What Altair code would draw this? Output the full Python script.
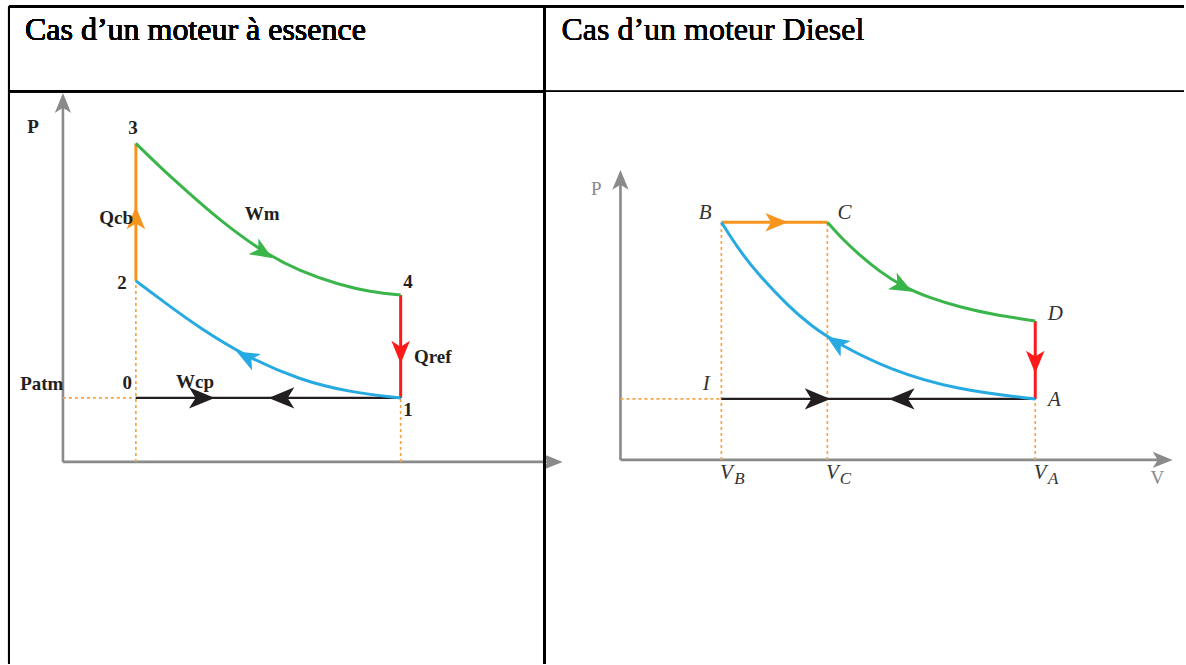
import altair as alt
import pandas as pd

# ---------------- Cycle à essence (Beau de Rochas), unités schématiques ----------------
ess_green_v = [1.00, 1.33, 1.74, 2.15, 2.74, 3.25, 3.79, 4.21, 4.63]
ess_green_p = [4.98, 4.61, 4.19, 3.78, 3.28, 2.98, 2.77, 2.66, 2.61]
ess_blue_v = [1.00, 1.42, 1.88, 2.52, 3.25, 3.93, 4.63]
ess_blue_p = [2.83, 2.47, 2.09, 1.64, 1.28, 1.09, 1.00]
ess_v_min, ess_v_max = 1.00, 4.63
ess_p_atm, ess_p2, ess_p3, ess_p4 = 1.00, 2.83, 4.98, 2.61
ess_axis_v_end, ess_axis_p_end = 6.71, 5.61

ess_label_text = ["P", "3", "Qcb", "Wm", "2", "4", "Qref", "Wcp", "Patm", "0", "1"]
ess_label_v = [-0.41, 0.96, 0.73, 2.73, 0.81, 4.73, 5.07, 1.81, -0.29, 0.88, 4.73]
ess_label_p = [5.23, 5.22, 3.81, 3.88, 2.80, 2.81, 1.64, 1.25, 1.22, 1.23, 0.81]

ess_arrow_v = [1.00, 2.74, 4.63, 2.52, 1.90, 3.00]
ess_arrow_p = [3.81, 3.28, 1.72, 1.64, 1.00, 1.00]
ess_arrow_dir = [0, 122, 180, 298, 90, 270]
ess_arrow_kind = ["orange", "green", "red", "blue", "black", "black"]

# ---------------- Cycle Diesel, unités schématiques ----------------
die_green_v = [2.05, 2.20, 2.37, 2.56, 2.79, 3.06, 3.36, 3.70, 4.11]
die_green_p = [3.90, 3.62, 3.36, 3.10, 2.85, 2.66, 2.51, 2.38, 2.28]
die_blue_v = [1.00, 1.16, 1.35, 1.67, 1.89, 2.14, 2.66, 3.33, 4.11]
die_blue_p = [3.90, 3.48, 3.07, 2.51, 2.20, 1.92, 1.48, 1.15, 1.00]
die_vb, die_vc, die_va = 1.00, 2.05, 4.11
die_pa, die_pb, die_pd = 1.00, 3.90, 2.28
die_axis_v_end, die_axis_p_end = 5.37, 4.59

die_label_text = ["B", "C", "D", "A", "I"]
die_label_v = [0.84, 2.22, 4.31, 4.30, 0.85]
die_label_p = [4.05, 4.05, 2.39, 0.98, 1.25]
die_tick_sub = ["B", "C", "A"]
die_tick_v = [die_vb, die_vc, die_va]

die_arrow_v = [1.545, 2.79, 2.14, 4.11, 1.95, 2.79]
die_arrow_p = [3.90, 2.85, 1.92, 1.61, 1.00, 1.00]
die_arrow_dir = [90, 118, 303, 180, 90, 270]
die_arrow_kind = ["orange", "green", "blue", "red", "black", "black"]

# ---------------- styles ----------------
KINDS = ["orange", "green", "blue", "red", "black", "axis"]
COLORS = ["#F7941D", "#39B54A", "#27AAE1", "#FF1A1A", "#231F20", "#8A8A8A"]
DASH_COLOR = "#F6A44A"
ARROW = "M0,-1L0.8,0.95L0,0.45L-0.8,0.95Z"
SERIF = "Liberation Serif"


def color_enc():
    return alt.Color("kind:N", scale=alt.Scale(domain=KINDS, range=COLORS), legend=None)


def segments(rows):
    """rows: list of (seg, kind, v_list, p_list) -> long table"""
    out = []
    for seg, kind, vs, ps in rows:
        for i, (v, p) in enumerate(zip(vs, ps)):
            out.append({"seg": seg, "kind": kind, "i": i, "v": v, "p": p})
    return pd.DataFrame(out)


def panel(width, height, origin, kx, ky, curves, straights, dashed, axes, arrows, axis_tips):
    x_dom = [(0 - origin[0]) / kx, (width - origin[0]) / kx]
    y_dom = [(origin[1] - height) / ky, origin[1] / ky]
    X = alt.X("v:Q", scale=alt.Scale(domain=x_dom, nice=False, zero=False), axis=None)
    Y = alt.Y("p:Q", scale=alt.Scale(domain=y_dom, nice=False, zero=False), axis=None)

    axis_layer = alt.Chart(axes).mark_line(strokeWidth=2.6, color="#8A8A8A").encode(
        x=X, y=Y, detail="seg:N", order="i:Q")
    tip_layer = alt.Chart(axis_tips).mark_point(
        shape=ARROW, filled=True, size=420, opacity=1, color="#8A8A8A"
    ).encode(x=X, y=Y, angle=alt.Angle("dir:Q", scale=None))
    dash_layer = alt.Chart(dashed).mark_line(
        strokeWidth=1.7, strokeDash=[3, 3], color=DASH_COLOR
    ).encode(x=X, y=Y, detail="seg:N", order="i:Q")
    straight_layer = alt.Chart(straights).mark_line().encode(
        x=X, y=Y, color=color_enc(), detail="seg:N", order="i:Q",
        strokeWidth=alt.StrokeWidth("w:Q", scale=None))
    curve_layer = alt.Chart(curves).mark_line(strokeWidth=3, interpolate="basis").encode(
        x=X, y=Y, color=color_enc(), detail="seg:N", order="i:Q")
    arrow_layer = alt.Chart(arrows).mark_point(
        shape=ARROW, filled=True, opacity=1
    ).encode(
        x=X, y=Y, color=color_enc(),
        size=alt.Size("sz:Q", scale=None),
        angle=alt.Angle("dir:Q", scale=None),
    )
    return X, Y, [axis_layer, tip_layer, dash_layer, straight_layer, curve_layer, arrow_layer]


def with_width(df):
    df["w"] = [2.2 if k == "black" else 3.0 for k in df["kind"]]
    return df


def arrow_table(v, p, d, kinds):
    return pd.DataFrame({
        "v": v, "p": p, "dir": d, "kind": kinds,
        "sz": [540 if k != "black" else 700 for k in kinds],
    })


# ---------------- panneau gauche : moteur à essence ----------------
L_W, L_H = 546, 665
ess_curves = segments([
    ("g", "green", ess_green_v, ess_green_p),
    ("b", "blue", ess_blue_v, ess_blue_p),
])
ess_straights = with_width(segments([
    ("o", "orange", [ess_v_min, ess_v_min], [ess_p2, ess_p3]),
    ("r", "red", [ess_v_max, ess_v_max], [ess_p4, ess_p_atm]),
    ("k", "black", [ess_v_min, ess_v_max], [ess_p_atm, ess_p_atm]),
]))
ess_dashed = segments([
    ("d1", "axis", [0, ess_v_min], [ess_p_atm, ess_p_atm]),
    ("d2", "axis", [ess_v_min, ess_v_min], [0, ess_p2]),
    ("d3", "axis", [ess_v_max, ess_v_max], [0, ess_p_atm]),
])
ess_axes = segments([
    ("ap", "axis", [0, 0], [0, ess_axis_p_end]),
    ("av", "axis", [0, ess_axis_v_end], [0, 0]),
])
ess_tips = pd.DataFrame({"v": [0, ess_axis_v_end], "p": [ess_axis_p_end, 0], "dir": [0, 90]})
ess_arrows = arrow_table(ess_arrow_v, ess_arrow_p, ess_arrow_dir, ess_arrow_kind)
LX, LY, left_layers = panel(L_W, L_H, (63, 462), 73, 64, ess_curves, ess_straights,
                            ess_dashed, ess_axes, ess_arrows, ess_tips)
ess_labels = pd.DataFrame({"v": ess_label_v, "p": ess_label_p, "t": ess_label_text})
left_layers.append(
    alt.Chart(ess_labels).mark_text(
        font=SERIF, fontWeight="bold", fontSize=19, color="#231F20",
        align="center", baseline="middle"
    ).encode(x=LX, y=LY, text="t:N")
)

# cadre du tableau et en-tête gauche
frame_left = [
    alt.Chart(ess_labels).mark_rule(color="black", strokeWidth=2).encode(
        x=alt.value(9), y=alt.value(6), y2=alt.value(664)),
    alt.Chart(ess_labels).mark_rule(color="black", strokeWidth=2).encode(
        x=alt.value(545), y=alt.value(6), y2=alt.value(664)),
    alt.Chart(ess_labels).mark_rule(color="black", strokeWidth=2.5).encode(
        x=alt.value(9), x2=alt.value(546), y=alt.value(6)),
    alt.Chart(ess_labels).mark_rule(color="black", strokeWidth=2).encode(
        x=alt.value(9), x2=alt.value(546), y=alt.value(91)),
    alt.Chart(ess_labels).mark_text(
        text="Cas d’un moteur à essence", font=SERIF, fontSize=32, color="black",
        align="left", baseline="alphabetic"
    ).encode(x=alt.value(25), y=alt.value(40)),
]
left = alt.layer(*left_layers, *frame_left).properties(width=L_W, height=L_H)

# ---------------- panneau droit : moteur Diesel ----------------
R_W, R_H = 640, 665
die_curves = segments([
    ("g", "green", die_green_v, die_green_p),
    ("b", "blue", die_blue_v, die_blue_p),
])
die_straights = with_width(segments([
    ("o", "orange", [die_vb, die_vc], [die_pb, die_pb]),
    ("r", "red", [die_va, die_va], [die_pd, die_pa]),
    ("k", "black", [die_vb, die_va], [die_pa, die_pa]),
]))
die_dashed = segments([
    ("d1", "axis", [0, die_vb], [die_pa, die_pa]),
    ("d2", "axis", [die_vb, die_vb], [0, die_pb]),
    ("d3", "axis", [die_vc, die_vc], [0, die_pb]),
    ("d4", "axis", [die_va, die_va], [0, die_pa]),
])
die_axes = segments([
    ("ap", "axis", [0, 0], [0, die_axis_p_end]),
    ("av", "axis", [0, die_axis_v_end], [0, 0]),
])
die_tips = pd.DataFrame({"v": [0, die_axis_v_end], "p": [die_axis_p_end, 0], "dir": [0, 90]})
die_arrows = arrow_table(die_arrow_v, die_arrow_p, die_arrow_dir, die_arrow_kind)
RX, RY, right_layers = panel(R_W, R_H, (75, 460), 101, 61, die_curves, die_straights,
                             die_dashed, die_axes, die_arrows, die_tips)

die_labels = pd.DataFrame({"v": die_label_v, "p": die_label_p, "t": die_label_text})
right_layers.append(
    alt.Chart(die_labels).mark_text(
        font=SERIF, fontStyle="italic", fontSize=21, color="#333333",
        align="center", baseline="middle"
    ).encode(x=RX, y=RY, text="t:N")
)
die_ticks = pd.DataFrame({"v": die_tick_v, "p": [-0.21] * 3, "main": ["V"] * 3, "sub": die_tick_sub})
right_layers.append(
    alt.Chart(die_ticks).mark_text(
        font=SERIF, fontStyle="italic", fontSize=21, color="#333333",
        align="center", baseline="middle", dx=5
    ).encode(x=RX, y=RY, text="main:N")
)
right_layers.append(
    alt.Chart(die_ticks).mark_text(
        font=SERIF, fontStyle="italic", fontSize=17, color="#333333",
        align="center", baseline="middle", dx=18, dy=6
    ).encode(x=RX, y=RY, text="sub:N")
)
die_axis_names = pd.DataFrame({"v": [-0.24, 5.32], "p": [4.45, -0.30], "t": ["P", "V"]})
right_layers.append(
    alt.Chart(die_axis_names).mark_text(
        font=SERIF, fontSize=19, color="#8A8A8A", align="center", baseline="middle"
    ).encode(x=RX, y=RY, text="t:N")
)

frame_right = [
    alt.Chart(die_labels).mark_rule(color="black", strokeWidth=2.5).encode(
        x=alt.value(0), x2=alt.value(639), y=alt.value(6)),
    alt.Chart(die_labels).mark_rule(color="black", strokeWidth=1).encode(
        x=alt.value(0), x2=alt.value(639), y=alt.value(91)),
    alt.Chart(die_labels).mark_text(
        text="Cas d’un moteur Diesel", font=SERIF, fontSize=32, color="black",
        align="left", baseline="alphabetic"
    ).encode(x=alt.value(16), y=alt.value(40)),
]
right = alt.layer(*right_layers, *frame_right).properties(width=R_W, height=R_H)

# "flush" : chaque cellule est placée d'après la taille de sa vue, sans tenir
# compte de l'axe V gauche qui déborde sur la cellule voisine
chart = (
    alt.hconcat(left, right, spacing=0, bounds="flush")
    .properties(padding=0, background="white")
    .configure_view(stroke=None)
)

chart.save("out.html", embed_options={"renderer": "svg", "actions": False})
